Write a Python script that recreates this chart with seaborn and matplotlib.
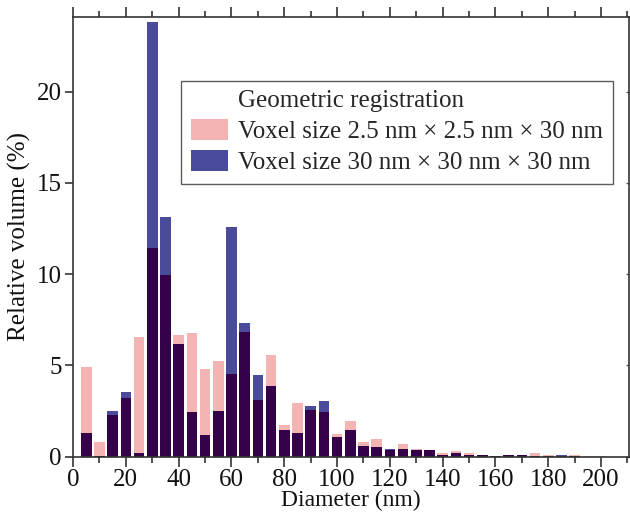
import numpy as np
import pandas as pd
import matplotlib
matplotlib.use("Agg")
import matplotlib.pyplot as plt
import seaborn as sns
from matplotlib.patches import Patch
from matplotlib.ticker import MultipleLocator

# bin centres (nm)
diameter = np.arange(5, 205, 5)

# relative volume (%) - fine voxels 2.5 x 2.5 x 30 nm
fine = [4.93, 0.78, 2.26, 3.21, 6.56, 11.44, 9.94, 6.65, 6.78, 4.79,
        5.24, 4.52, 6.86, 3.09, 5.55, 1.72, 2.93, 2.55, 2.46, 1.26,
        1.97, 0.81, 0.96, 0.38, 0.69, 0.40, 0.35, 0.20, 0.29, 0.18,
        0.11, 0.03, 0.07, 0.07, 0.18, 0.09, 0.06, 0.07, 0.02, 0.04]

# relative volume (%) - coarse voxels 30 x 30 x 30 nm
coarse = [1.28, 0.03, 2.49, 3.52, 0.20, 23.8, 13.15, 6.20, 2.44, 1.17,
          2.49, 12.61, 7.32, 4.46, 3.88, 1.45, 1.28, 2.76, 3.07, 1.10,
          1.48, 0.60, 0.51, 0.42, 0.42, 0.38, 0.34, 0.09, 0.18, 0.09,
          0.11, 0.02, 0.07, 0.07, 0.05, 0.05, 0.08, 0.02, 0.01, 0.01]

PINK = "#f4b4b4"
BLUE = "#4b4b9b"
DARK = "#34004a"

df = pd.DataFrame({"Diameter": diameter, "fine": fine, "coarse": coarse})
df["overlap"] = np.minimum(df["fine"], df["coarse"])

sns.set_style("ticks")
plt.rcParams["font.family"] = ["Liberation Serif", "DejaVu Serif"]
plt.rcParams["font.size"] = 18

fig = plt.figure(figsize=(6.3, 5.12), dpi=100)
ax = fig.add_axes([0.116, 0.108, 0.882, 0.859])

sns.barplot(data=df, x="Diameter", y="fine", native_scale=True, width=0.8,
            color=PINK, saturation=1, linewidth=0, ax=ax)
sns.barplot(data=df, x="Diameter", y="coarse", native_scale=True, width=0.8,
            color=BLUE, saturation=1, linewidth=0, ax=ax)
sns.barplot(data=df, x="Diameter", y="overlap", native_scale=True, width=0.8,
            color=DARK, saturation=1, linewidth=0, ax=ax)

ax.set_xlim(0, 210.5)
ax.set_ylim(0, 24.1)
ax.xaxis.set_major_locator(MultipleLocator(20))
ax.xaxis.set_minor_locator(MultipleLocator(10))
ax.yaxis.set_major_locator(MultipleLocator(5))
ax.tick_params(axis="x", which="both", top=True, direction="out",
               labelsize=18, color="#333333", labelcolor="#111111", pad=2)
ax.tick_params(axis="x", which="major", length=7, width=1.2)
ax.tick_params(axis="x", which="minor", length=4, width=1.2)
ax.tick_params(axis="y", which="major", direction="out", length=6, width=1.2,
               labelsize=18, color="#333333", labelcolor="#111111", pad=2)
for s in ax.spines.values():
    s.set_linewidth(1.2)
    s.set_color("#333333")

right = ax.secondary_yaxis("right")
right.yaxis.set_major_locator(MultipleLocator(5))
right.tick_params(direction="in", length=2.5, width=1, labelright=False,
                  color="#555555")
right.spines["right"].set_visible(False)

ax.set_xlabel("Diameter (nm)", fontsize=17, labelpad=-1, color="#111111")
ax.set_ylabel("Relative volume (%)", fontsize=18, labelpad=4, color="#111111")

handles = [Patch(facecolor=PINK, edgecolor="none"),
           Patch(facecolor=BLUE, edgecolor="none")]
labels = ["Voxel size 2.5 nm \u00d7 2.5 nm \u00d7 30 nm",
          "Voxel size 30 nm \u00d7 30 nm \u00d7 30 nm"]
leg = ax.legend(handles, labels, title="Geometric registration",
                loc="upper left", bbox_to_anchor=(0.195, 0.855),
                fontsize=18, title_fontsize=18, frameon=True, fancybox=False,
                borderpad=0.38, handlelength=1.5, handleheight=0.9,
                handletextpad=0.4, labelspacing=0.28, borderaxespad=0)
leg.get_frame().set_edgecolor("#333333")
leg.get_frame().set_linewidth(1.0)
leg._legend_box.align = "left"
leg.get_title().set_position((47, 0))

fig.savefig("out.png", dpi=100)
